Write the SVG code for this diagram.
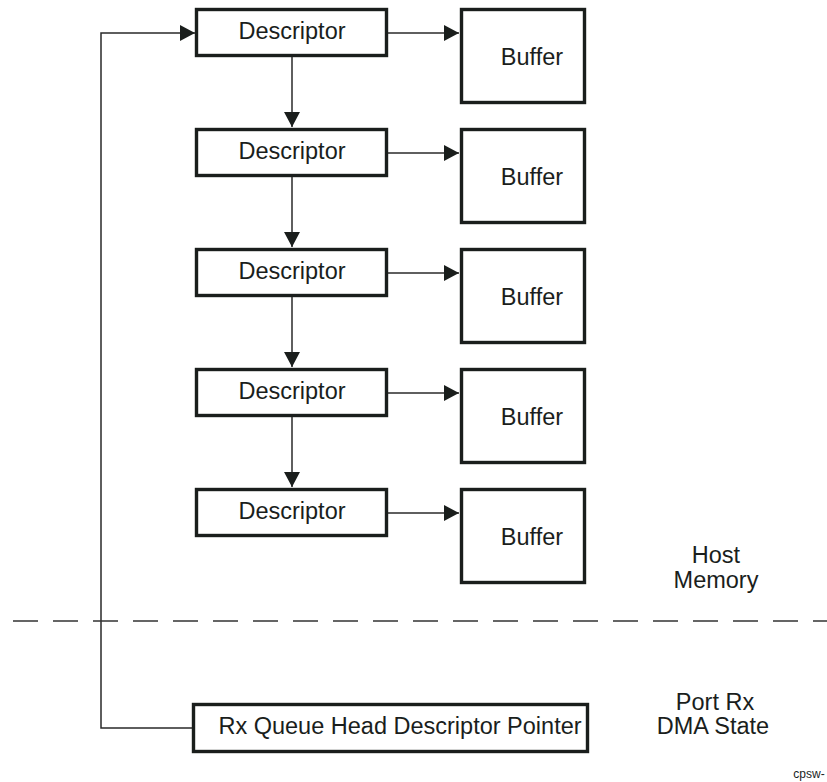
<svg xmlns="http://www.w3.org/2000/svg" width="827" height="782" viewBox="0 0 827 782">
<style>
.box{fill:#fff;stroke:#1a1e1c;stroke-width:3.4}
.t{font-family:"Liberation Sans",Arial,sans-serif;font-size:23.5px;fill:#1a1e1c;text-anchor:middle}
.lbl{font-family:"Liberation Sans",Arial,sans-serif;font-size:23.5px;fill:#1a1e1c;text-anchor:middle}
.c{fill:none;stroke:#2a2a2a;stroke-width:1.5}
.dash{fill:none;stroke:#333;stroke-width:1.5;stroke-dasharray:25 15}
</style>
<defs>
<marker id="ah" markerUnits="userSpaceOnUse" markerWidth="15" markerHeight="16" viewBox="0 0 15 16" refX="15" refY="8" orient="auto">
<path d="M0,0 L15,8 L0,16 z" fill="#1a1e1c"/>
</marker>
</defs>
<rect width="827" height="782" fill="#fff"/>
<g id="connectors">
<path class="c" d="M388,33 H459" marker-end="url(#ah)"/>
<path class="c" d="M388,153 H459" marker-end="url(#ah)"/>
<path class="c" d="M388,273 H459" marker-end="url(#ah)"/>
<path class="c" d="M388,393 H459" marker-end="url(#ah)"/>
<path class="c" d="M388,513 H459" marker-end="url(#ah)"/>
<path class="c" d="M292,57 V127" marker-end="url(#ah)"/>
<path class="c" d="M292,177 V247" marker-end="url(#ah)"/>
<path class="c" d="M292,297 V367" marker-end="url(#ah)"/>
<path class="c" d="M292,417 V487" marker-end="url(#ah)"/>
<path class="c" d="M193,728 H101 V33 H195" marker-end="url(#ah)"/>
</g>
<g id="desc1"><rect class="box" x="196.5" y="9.5" width="190" height="46"/><text class="t" x="292" y="39">Descriptor</text></g>
<g id="desc2"><rect class="box" x="196.5" y="129.5" width="190" height="46"/><text class="t" x="292" y="159">Descriptor</text></g>
<g id="desc3"><rect class="box" x="196.5" y="249.5" width="190" height="46"/><text class="t" x="292" y="279">Descriptor</text></g>
<g id="desc4"><rect class="box" x="196.5" y="369.5" width="190" height="46"/><text class="t" x="292" y="399">Descriptor</text></g>
<g id="desc5"><rect class="box" x="196.5" y="489.5" width="190" height="46"/><text class="t" x="292" y="519">Descriptor</text></g>
<g id="buf1"><rect class="box" x="461.5" y="9.5" width="123" height="93"/><text class="t" x="532" y="65">Buffer</text></g>
<g id="buf2"><rect class="box" x="461.5" y="129.5" width="123" height="93"/><text class="t" x="532" y="185">Buffer</text></g>
<g id="buf3"><rect class="box" x="461.5" y="249.5" width="123" height="93"/><text class="t" x="532" y="305">Buffer</text></g>
<g id="buf4"><rect class="box" x="461.5" y="369.5" width="123" height="93"/><text class="t" x="532" y="425">Buffer</text></g>
<g id="buf5"><rect class="box" x="461.5" y="489.5" width="123" height="93"/><text class="t" x="532" y="545">Buffer</text></g>
<g id="rxptr"><rect class="box" x="193.5" y="704.5" width="394" height="47"/><text class="t" x="400" y="734">Rx Queue Head Descriptor Pointer</text></g>
<path class="dash" d="M13,621 H827"/>
<g id="labels">
<text class="lbl" x="716" y="563">Host</text>
<text class="lbl" x="716" y="588">Memory</text>
<text class="lbl" x="715" y="710">Port Rx</text>
<text class="lbl" x="713" y="734">DMA State</text>
<text x="809" y="778" font-family="Liberation Sans, Arial, sans-serif" font-size="12" fill="#1a1e1c" text-anchor="middle">cpsw-</text>
</g>
</svg>
